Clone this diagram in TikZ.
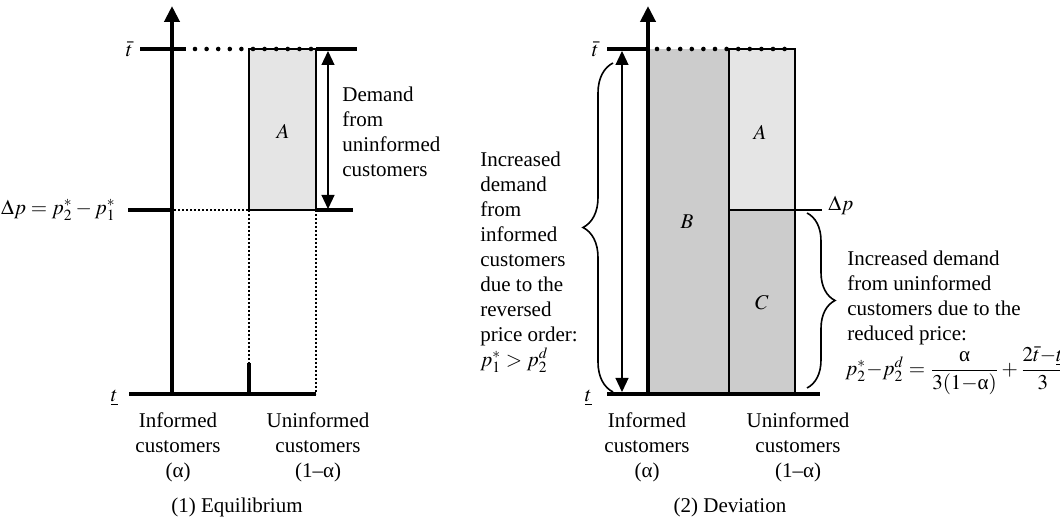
\documentclass[tikz,border=0pt]{standalone}
\usepackage{amsmath}
\usepackage{mathptmx}
\usepackage[no-math]{fontspec}
\setmainfont{Liberation Serif}
\usetikzlibrary{arrows.meta,decorations.pathreplacing}

\tikzset{
  axisline/.style={line width=2.2pt, -{Triangle[width=7.5pt,length=8pt]}},
  thickbar/.style={line width=2.2pt},
  bigdots/.style={line width=2.3pt, line cap=round, dash pattern=on 0pt off 5.8pt},
  thindots/.style={line width=0.8pt, dash pattern=on 0.8pt off 1.2pt},
  boxline/.style={line width=0.6pt},
  twoway/.style={line width=0.6pt, {Triangle[width=6.5pt,length=7pt]}-{Triangle[width=6.5pt,length=7pt]}},
  curly/.style={decorate, decoration={brace, amplitude=#1}, line width=0.8pt},
  lbl/.style={inner sep=0pt, font=\fontsize{10.5}{12.5}\selectfont},
}

\begin{document}
\begin{tikzpicture}[x=0.5pt, y=-0.5pt]
\useasboundingbox (0,0) rectangle (1060,522);

% ---- (1) Equilibrium ----
\coordinate (o1) at (172,396);
\coordinate (top1) at (172,6);
\fill[black!10] (249,49) rectangle (316,210);
\draw[boxline] (249,210) -- (249,49) -- (316,49) -- (316,210) -- cycle;
\draw[bigdots] (195,49) -- (316,49);
\draw[thindots] (174,210) -- (249,210);
\draw[thindots] (249,210) -- (249,363);
\draw[thindots] (316,210) -- (316,394);
\draw[thickbar] (249,363) -- (249,394);
\draw[thickbar] (140,49) -- (186,49);
\draw[thickbar] (128,210) -- (170,210);
\draw[thickbar] (316,49) -- (357,49);
\draw[thickbar] (316,210) -- (353,210);
\draw[thickbar] (129,394) -- (316,394);
\draw[axisline] (o1) -- (top1);
\coordinate (hi1) at (328,51);
\coordinate (lo1) at (328,209);
\draw[twoway] (hi1) -- (lo1);

\node[lbl, anchor=east] (tbar1) at (133,49) {$\bar{t}$};
\node[lbl, anchor=east] (dp1) at (116,210) {$\Delta p = p_2^* - p_1^*$};
\node[lbl, anchor=east] (tlow1) at (118,398) {$\underline{t}$};
\node[lbl] (areaA1) at (283,131) {$A$};
\node[lbl, anchor=west, align=left] (demand) at (342,132) {Demand\\from\\uninformed\\customers};
\node[lbl, align=center] (inf1) at (178,447) {Informed\\customers\\(α)};
\node[lbl, align=center] (uninf1) at (318,447) {Uninformed\\customers\\(1–α)};
\node[lbl] (cap1) at (237,507) {(1) Equilibrium};

% ---- (2) Deviation ----
\coordinate (o2) at (648,396);
\coordinate (top2) at (648,6);
\fill[black!20] (648,49) rectangle (795,394);
\fill[black!10] (729,49) rectangle (795,210);
\draw[boxline] (729,394) -- (729,49) -- (795,49) -- (795,394);
\draw[boxline] (729,210) -- (822,210);
\draw[bigdots] (657,49) -- (795,49);
\draw[thickbar] (607,49) -- (648,49);
\draw[thickbar] (607,394) -- (820,394);
\draw[axisline] (o2) -- (top2);
\coordinate (hi2) at (622,51);
\coordinate (lo2) at (622,392);
\draw[twoway] (hi2) -- (lo2);
\draw[curly=15pt] (613,392) -- (613,63);
\draw[curly=14pt] (807,213) -- (807,388);

\node[lbl, anchor=east] (tbar2) at (599,49) {$\bar{t}$};
\node[lbl, anchor=east] (tlow2) at (592,398) {$\underline{t}$};
\node[lbl, anchor=west] (dp2) at (828,205) {$\Delta p$};
\node[lbl] (areaA2) at (760,132) {$A$};
\node[lbl] (areaB) at (687,222) {$B$};
\node[lbl] (areaC) at (762,303) {$C$};
\node[lbl, anchor=west, align=left] (informedup) at (480,262)
  {Increased\\demand\\from\\informed\\customers\\due to the\\reversed\\price order:\\$p_1^* > p_2^d$};
\node[lbl, anchor=west, align=left] (uninformedup) at (847,298)
  {Increased demand\\from uninformed\\customers due to the\\reduced price:};
\node[lbl, anchor=west] (gap) at (845,371)
  {\medmuskip=2mu\thickmuskip=4mu
   $p_2^*\!-\!p_2^d = \dfrac{\mbox{α}}{3(1{-}\mbox{α})} + \dfrac{2\bar{t}{-}\underline{t}}{3}$};
\node[lbl, align=center] (inf2) at (647,447) {Informed\\customers\\(α)};
\node[lbl, align=center] (uninf2) at (798,447) {Uninformed\\customers\\(1–α)};
\node[lbl] (cap2) at (730,507) {(2) Deviation};
\end{tikzpicture}
\end{document}
